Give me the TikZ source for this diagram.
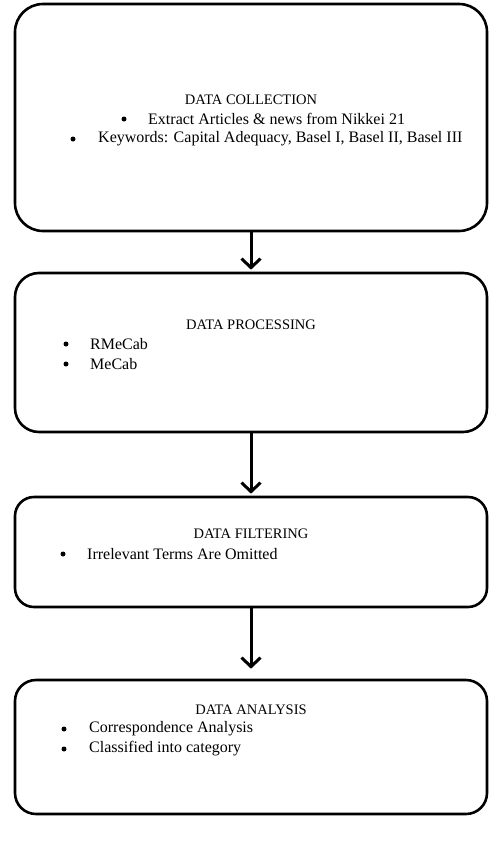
\documentclass[tikz,border=0pt]{standalone}
\usepackage{fontspec}
\setmainfont{Liberation Serif}
\usetikzlibrary{arrows.meta}
\begin{document}
\begin{tikzpicture}[x=1pt,y=1pt,
  box/.style={draw, line width=2.6pt, rounded corners=#1, inner sep=0pt},
  box/.default=22pt,
  conn/.style={line width=3pt, -{Straight Barb[length=9pt,width=19pt]}},
  ttl/.style={font=\fontsize{14.5}{16}\selectfont, anchor=center, inner sep=0pt},
  itm/.style={font=\fontsize{16}{18}\selectfont, anchor=west, inner sep=0pt},
  bul/.style={circle, fill, inner sep=0pt, minimum size=5pt}]
\useasboundingbox (0,0) rectangle (495,-855);
\node[box=28pt, minimum width=472pt, minimum height=227pt] (b1) at (251,-117.5) {};
\node[box=24pt, minimum width=472pt, minimum height=159pt] (b2) at (251,-352.5) {};
\node[box=19pt, minimum width=472pt, minimum height=110pt] (b3) at (251,-552) {};
\node[box=21pt, minimum width=472pt, minimum height=134pt] (b4) at (251,-747) {};
% box 1 texts
\node[ttl] (t1) at (251,-100) {DATA COLLECTION};
\node[bul] (d11) at (124,-119) {};
\node[itm] (i11) at (148,-119) {Extract Articles \& news from Nikkei 21};
\node[bul] (d12) at (73,-139) {};
\node[itm] (i12) at (98,-139) {Keywords: Capital Adequacy, Basel I, Basel II, Basel III};
% box 2
\node[ttl] (t2) at (251,-325) {DATA PROCESSING};
\node[bul] (d21) at (66,-344) {};
\node[itm] (i21) at (90,-344) {RMeCab};
\node[bul] (d22) at (66,-364) {};
\node[itm] (i22) at (90,-364) {MeCab};
% box 3
\node[ttl] (t3) at (251,-534) {DATA FILTERING};
\node[bul] (d31) at (63,-554) {};
\node[itm] (i31) at (87,-554) {Irrelevant Terms Are Omitted};
% box 4
\node[ttl] (t4) at (251,-710) {DATA ANALYSIS};
\node[bul] (d41) at (64,-729) {};
\node[itm] (i41) at (89,-729) {Correspondence Analysis};
\node[bul] (d42) at (64,-749) {};
\node[itm] (i42) at (89,-749) {Classified into category};
% connectors
\draw[conn, shorten >=2pt] (b1.south) -- (b2.north);
\draw[conn, shorten >=2pt] (b2.south) -- (b3.north);
\draw[conn, shorten >=10pt] (b3.south) -- (b4.north);
\end{tikzpicture}
\end{document}
